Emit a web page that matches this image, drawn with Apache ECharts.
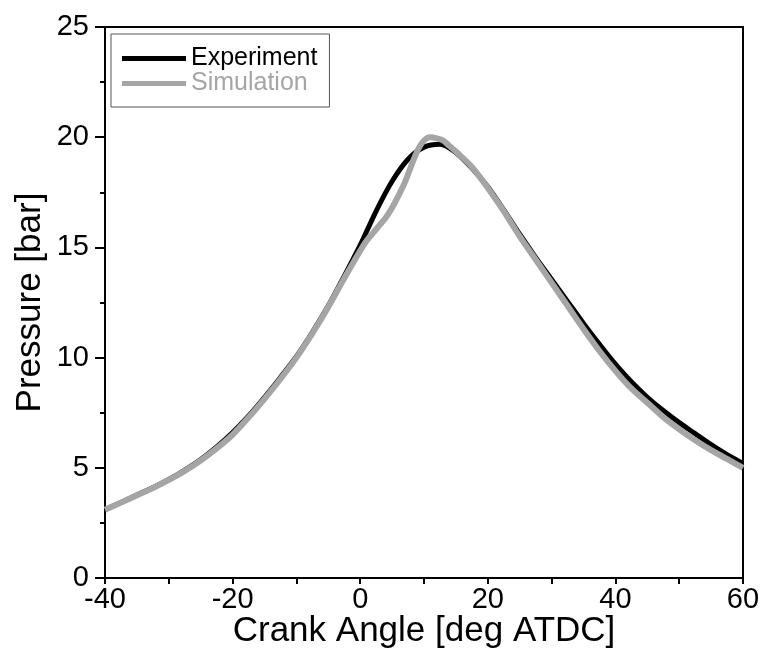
<!DOCTYPE html>
<html>
<head>
<meta charset="utf-8">
<script src="https://cdn.jsdelivr.net/npm/echarts@6/dist/echarts.min.js"></script>
<style>
	html, body { margin: 0; padding: 0; background: #fff; }
	#draw { width: 762px; height: 649px; }
</style>
</head>
<body>
<div id="draw"></div>
<script>
// crank angle [deg ATDC] and pressure [bar]
var expAngle = [-40, -37.5, -35, -32.5, -30, -27.5, -25, -22.5, -20, -17.5, -15, -12.5, -10, -7.5, -5, -2.5, 0, 2.5, 5, 7.5, 10, 12.5, 15, 17.5, 20, 22.5, 25, 27.5, 30, 32.5, 35, 37.5, 40, 42.5, 45, 47.5, 50, 52.5, 55, 57.5, 60];
var expPressure = [3.1, 3.43, 3.77, 4.1, 4.47, 4.9, 5.38, 5.95, 6.6, 7.35, 8.2, 9.1, 10.05, 11.15, 12.35, 13.7, 15.1, 16.65, 18.0, 19.0, 19.55, 19.68, 19.3, 18.6, 17.75, 16.7, 15.6, 14.55, 13.55, 12.55, 11.55, 10.6, 9.7, 8.9, 8.2, 7.6, 7.05, 6.55, 6.05, 5.6, 5.2];

var simAngle = [-40, -37.5, -35, -32.5, -30, -27.5, -25, -22.5, -20, -17.5, -15, -12.5, -10, -7.5, -5, -2.5, 0, 1, 2, 3, 4, 5, 6, 7, 8, 9, 10, 11, 12, 13, 14, 15, 17.5, 20, 22.5, 25, 27.5, 30, 32.5, 35, 37.5, 40, 42.5, 45, 47.5, 50, 52.5, 55, 57.5, 60];
var simPressure = [3.1, 3.42, 3.75, 4.08, 4.45, 4.86, 5.33, 5.88, 6.5, 7.28, 8.13, 9.03, 10.0, 11.1, 12.3, 13.6, 14.85, 15.3, 15.65, 16.0, 16.35, 16.8, 17.35, 17.95, 18.7, 19.4, 19.85, 20.0, 19.95, 19.85, 19.6, 19.35, 18.65, 17.7, 16.65, 15.5, 14.45, 13.4, 12.35, 11.3, 10.3, 9.4, 8.6, 7.95, 7.3, 6.75, 6.25, 5.8, 5.4, 5.0];

var xTicks = [-40, -20, 0, 20, 40, 60];
var yTicks = [0, 5, 10, 15, 20, 25];

var grayCol = '#a5a5a5';
var fontFam = 'Liberation Sans, Arial, sans-serif';

function pairs(xs, ys) {
	return xs.map(function(x, i) {
		return [x, ys[i]];
	});
}

var myChart = echarts.init(document.getElementById('draw'));

option = {
	backgroundColor : '#fff',
	animation : false,
	grid : {
		left : 105,
		right : 19,
		top : 27,
		bottom : 71,
		outerBoundsMode : 'none',
		containLabel : false,
		show : true,
		borderColor : '#000',
		borderWidth : 2
	},
	legend : {
		orient : 'vertical',
		left : 111,
		top : 34,
		padding : [12, 12, 11, 11],
		borderColor : '#555',
		borderWidth : 1,
		itemWidth : 64,
		itemHeight : 5,
		itemGap : 0,
		icon : 'rect',
		textStyle : {
			fontFamily : fontFam,
			fontSize : 25,
			lineHeight : 23
		},
		data : [ {
			name : 'Experiment',
			textStyle : { color : '#000' }
		}, {
			name : 'Simulation',
			textStyle : { color : grayCol }
		} ]
	},
	xAxis : {
		type : 'value',
		min : xTicks[0],
		max : xTicks[xTicks.length - 1],
		interval : 20,
		name : 'Crank Angle [deg ATDC]',
		nameLocation : 'middle',
		nameMoveOverlap : false,
		nameGap : 36,
		nameTextStyle : {
			fontFamily : fontFam,
			fontSize : 35,
			color : '#000'
		},
		axisLine : { onZero : false, lineStyle : { color : '#000', width : 2 } },
		axisTick : { show : true, length : 6, lineStyle : { color : '#000', width : 2 } },
		minorTick : { show : true, splitNumber : 2, length : 6, lineStyle : { color : '#000', width : 2 } },
		splitLine : { show : false },
		axisLabel : {
			fontFamily : fontFam,
			fontSize : 29,
			color : '#000',
			margin : 7
		}
	},
	yAxis : {
		type : 'value',
		min : yTicks[0],
		max : yTicks[yTicks.length - 1],
		interval : 5,
		name : 'Pressure [bar]',
		nameLocation : 'middle',
		nameMoveOverlap : false,
		nameGap : 57,
		nameTextStyle : {
			fontFamily : fontFam,
			fontSize : 35,
			color : '#000'
		},
		axisLine : { onZero : false, lineStyle : { color : '#000', width : 2 } },
		axisTick : { show : true, length : 10, lineStyle : { color : '#000', width : 2 } },
		minorTick : { show : true, splitNumber : 2, length : 5, lineStyle : { color : '#000', width : 2 } },
		splitLine : { show : false },
		axisLabel : {
			fontFamily : fontFam,
			fontSize : 29,
			color : '#000',
			margin : 16
		}
	},
	series : [ {
		name : 'Experiment',
		type : 'line',
		data : pairs(expAngle, expPressure),
		smooth : 0.3,
		showSymbol : false,
		color : '#000',
		lineStyle : { color : '#000', width : 5 },
		z : 2
	}, {
		name : 'Simulation',
		type : 'line',
		data : pairs(simAngle, simPressure),
		smooth : 0.3,
		showSymbol : false,
		color : grayCol,
		lineStyle : { color : grayCol, width : 6 },
		z : 3
	} ]
};
myChart.setOption(option);
</script>
</body>
</html>
